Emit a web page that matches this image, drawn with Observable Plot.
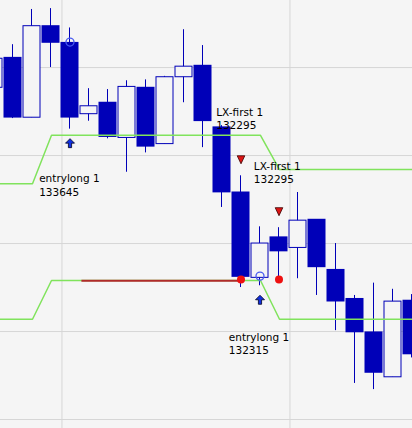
<!DOCTYPE html>
<html><head><meta charset="utf-8">
<script src="https://cdn.jsdelivr.net/npm/d3@7"></script>
<script src="https://cdn.jsdelivr.net/npm/@observablehq/plot@0.6"></script>
<style>
html,body{margin:0;padding:0;background:#f5f5f5;}
#chart{width:412px;height:428px;overflow:hidden;}
</style></head><body><div id="chart"></div>
<script>
// bar index (time order)
const bars  = [0,1,2,3,4,5,6,7,8,9,10,11,12,13,14,15,16,17,18,19,20,21,22];
const open  = [133385,133555,133215,133735,133640,133235,133300,133100,133385,133065,133445,133510,133160,132790,132305,132535,132475,132635,132350,132185,131995,131740,132175];
const high  = [133580,133630,133830,133835,133725,133380,133375,133425,133430,133450,133715,133625,133170,132885,132595,132590,132790,132635,132500,132205,132275,132240,132210];
const low   = [133350,133210,133215,133500,133150,133195,133095,132905,133015,133065,133300,133045,132705,132250,132260,132275,132300,132205,132005,131705,131670,131740,131850];
const close = [133550,133210,133735,133635,133210,133280,133100,133390,133045,133445,133505,133190,132785,132305,132500,132450,132630,132360,132165,131990,131760,132170,131865];

// price grid and time grid
const priceGrid = [131500,132000,132500,133000,133500];
const timeGrid  = [3.55,15.55];

// stop lines
const stopX     = [0,2,3,14,15,23];
const upperStop = [132840,132840,133115,133115,132920,132920];
const lowerStop = [132070,132070,132290,132290,132070,132070];

// pending entry level
const pendingLevel = [132288];
const pendingFrom = 4.6, pendingTo = 13;

// trade markers
const entryBars   = [4,14];
const entryPrices = [133645,132315];
const exitBars    = [13,15];
const exitPrices  = [132295,132295];

// labels
const labelX     = [2.35,11.67,13.65,12.33];
const labelPrice = [132900,133280,132972,132002];
const labelText  = ["entrylong 1\n133645","LX-first 1\n132295","LX-first 1\n132295","entrylong 1\n132315"];

const candles = bars.map(i => ({i, open: open[i], high: high[i], low: low[i], close: close[i]}));
const ups = candles.filter(d => d.close > d.open);
const downs = candles.filter(d => d.close <= d.open);
const upper = stopX.map((x, k) => ({x, y: upperStop[k]}));
const lower = stopX.map((x, k) => ({x, y: lowerStop[k]}));
const entries = entryBars.map((i, k) => ({i, price: entryPrices[k], low: low[i]}));
const exits = exitBars.map((i, k) => ({i, price: exitPrices[k], high: high[i]}));
const labels = labelX.map((x, k) => ({x, y: labelPrice[k], text: labelText[k]}));

const blue = "#0000b8";
const hw = 9/19;

const arrowUp = {draw(ctx){ ctx.moveTo(0,-4.5); ctx.lineTo(4.5,0); ctx.lineTo(1.6,0); ctx.lineTo(1.6,4.5); ctx.lineTo(-1.6,4.5); ctx.lineTo(-1.6,0); ctx.lineTo(-4.5,0); ctx.closePath(); }};
const triDown = {draw(ctx){ ctx.moveTo(-3.8,-4); ctx.lineTo(3.8,-4); ctx.lineTo(0,4); ctx.closePath(); }};

const chart = Plot.plot({
  width: 412, height: 428, margin: 0,
  style: {background: "#f5f5f5", overflow: "hidden"},
  x: {domain: [6/19, 22], axis: null},
  y: {domain: [131449, 133881], axis: null},
  marks: [
    Plot.ruleY(priceGrid, {stroke: "#d6d6d6"}),
    Plot.ruleX(timeGrid, {stroke: "#d6d6d6"}),
    Plot.ruleX(candles, {x: "i", y1: "low", y2: "high", stroke: blue, dx: -1}),
    Plot.rect(downs, {x1: d => d.i - hw, x2: d => d.i + hw, y1: "open", y2: "close", fill: blue, dx: -0.5, dy: -0.5}),
    Plot.rect(ups, {x1: d => d.i - hw, x2: d => d.i + 8/19, y1: "open", y2: "close", fill: "#f5f5f5", stroke: blue, strokeWidth: 1}),
    Plot.line(upper, {x: "x", y: "y", stroke: "#80e35c", strokeWidth: 1.5}),
    Plot.line(lower, {x: "x", y: "y", stroke: "#80e35c", strokeWidth: 1.5}),
    Plot.ruleY(pendingLevel, {x1: pendingFrom, x2: pendingTo, stroke: "#b02a2a", strokeWidth: 2}),
    Plot.dot(entries, {x: "i", y: "price", r: 4, stroke: "#4a5cf0", strokeWidth: 1.3, fill: "none", dx: -0.5}),
    Plot.dot(exits, {x: "i", y: "price", r: 4, fill: "#ee1010", stroke: "none", dx: -0.5}),
    Plot.dot(exits, {x: "i", y: "high", symbol: triDown, fill: "#dd1414", stroke: "#3a0000", strokeWidth: 0.8, dy: -16, dx: -0.5}),
    Plot.dot(entries, {x: "i", y: "low", symbol: arrowUp, fill: "#1030e0", stroke: "#000022", strokeWidth: 0.8, dy: 14, dx: -0.5}),
    Plot.text(labels, {x: "x", y: "y", text: "text", textAnchor: "start", lineAnchor: "top", lineHeight: 1.25, fontSize: 10.5, fontFamily: "DejaVu Sans", fill: "#000"})
  ]
});
document.getElementById("chart").appendChild(chart);
</script></body></html>
